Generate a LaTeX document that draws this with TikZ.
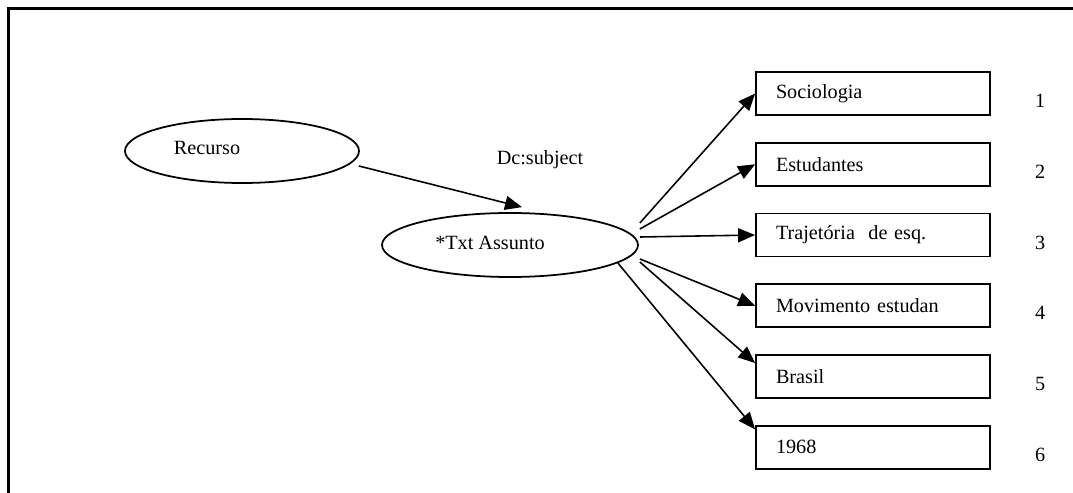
\documentclass[tikz,border=0pt]{standalone}
\usepackage{fontspec}
\setmainfont{Liberation Serif}
\usepackage{tikz}
\usetikzlibrary{arrows.meta,positioning,calc,shapes.geometric}
\tikzset{
  resnode/.style={
    ellipse,
    draw,
    line width=1pt,
    inner sep=0pt
  },
  termbox/.style={
    rectangle,
    draw,
    line width=1pt,
    minimum width=46.8mm,
    minimum height=8.6mm,
    inner xsep=4mm,
    inner ysep=0pt,
    text width=38.8mm,
    align=left
  },
  subjarc/.style={
    -{Triangle[length=3.4mm,width=2.8mm]},
    line width=0.9pt
  },
  numlabel/.style={
    inner sep=0pt,
    right=8.8mm of #1,
    yshift=-1.5mm
  },
  frameline/.style={
    line width=1.4pt
  }
}

\begin{document}
\begin{tikzpicture}[x=0.2mm,y=-0.2mm,node distance=5.2mm,
    font=\fontsize{11.5}{13.8}\selectfont]
  \useasboundingbox (0,0) rectangle (1073,493);
  \draw[frameline] (8.5,493) |- (1073,8.5);

  \node[resnode,minimum width=46.8mm,minimum height=12.8mm,
    label={[xshift=-7mm,yshift=0.6mm]center:Recurso}] (rec) at (242,151) {};
  \node[resnode,minimum width=51.2mm,minimum height=12.8mm,
    label={[xshift=-4mm,yshift=0.4mm]center:*Txt Assunto}] (ass) at (510,245) {};

  \node (prop) at (540,160) {Dc:subject};
  \draw[subjarc] ($(rec.east)+(-1,15)$) -- ($(ass.north)+(12,-5)$);

  % subject values
  \node[termbox] (b1) at (873,93.5) {Sociologia};
  \node[termbox,below=of b1] (b2) {Estudantes};
  \node[termbox,below=of b2] (b3) {Trajetória~~de esq.};
  \node[termbox,below=of b3] (b4) {Movimento estudan};
  \node[termbox,below=of b4] (b5) {Brasil};
  \node[termbox,below=of b5] (b6) {1968};

  \node[numlabel=b1] (n1) {1};
  \node[numlabel=b2] (n2) {2};
  \node[numlabel=b3] (n3) {3};
  \node[numlabel=b4] (n4) {4};
  \node[numlabel=b5] (n5) {5};
  \node[numlabel=b6] (n6) {6};

  \draw[subjarc] ($(ass.east)+(1,-22)$) -- (b1.west);
  \draw[subjarc] ($(ass.east)+(1,-16)$) -- (b2.west);
  \draw[subjarc] ($(ass.east)+(1,-8)$) -- (b3.west);
  \draw[subjarc] ($(ass.east)+(1,14)$) -- (b4.west);
  \draw[subjarc] ($(ass.east)+(1,17)$) -- ($(b5.north west)!0.2!(b5.south west)$);
  \draw[subjarc] ($(ass.east)+(-21,18)$) -- ($(b6.north west)!0.1!(b6.south west)$);
\end{tikzpicture}
\end{document}
